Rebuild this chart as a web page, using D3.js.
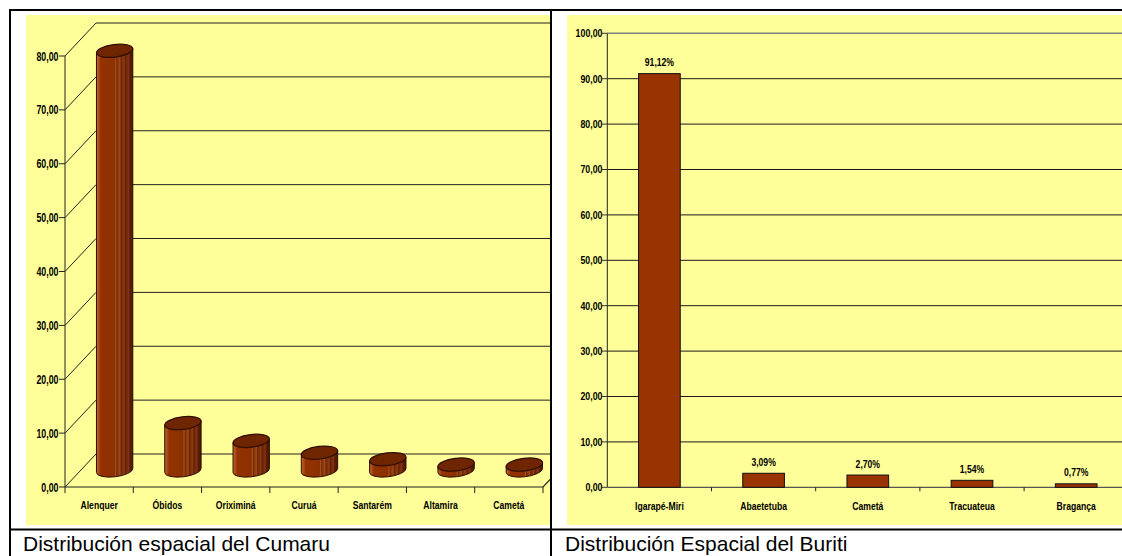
<!DOCTYPE html>
<html><head><meta charset="utf-8">
<script src="https://cdn.jsdelivr.net/npm/d3@7"></script>
<style>
html,body{margin:0;padding:0;background:#fff;}
svg{display:block;}
.lab{font-family:"Liberation Sans",Arial,sans-serif;font-weight:bold;fill:#000;}
.cap{font-family:"Liberation Sans",Arial,sans-serif;font-size:21px;fill:#000;}
</style></head>
<body>
<script>
// ---- data ----
const cumaruCats = ["Alenquer","Óbidos","Oriximiná","Curuá","Santarém","Altamira","Cametá"];
const cumaruVals = [77.9, 8.8, 5.5, 3.3, 2.1, 1.1, 1.1];
const cumaruTicks = [0,10,20,30,40,50,60,70,80];
const buritiCats = ["Igarapé-Miri","Abaetetuba","Cametá","Tracuateua","Bragança"];
const buritiVals = [91.12, 3.09, 2.70, 1.54, 0.77];
const buritiTicks = [0,10,20,30,40,50,60,70,80,90,100];
const captions = ["Distribución espacial del Cumaru","Distribución Espacial del Buriti"];

const fmt = v => d3.format(".2f")(v).replace(".", ",");

const W = 1122, H = 556;
const svg = d3.select("body").append("svg").attr("width", W).attr("height", H);
const defs = svg.append("defs");

// narrow bold label helper
function label(g, x, y, txt, size, anchor, sx) {
  return g.append("text").attr("class","lab").attr("text-anchor",anchor)
    .attr("transform",`translate(${x},${y}) scale(${sx},1)`)
    .attr("font-size",size).text(txt);
}

// cylinder gradient
const grad = defs.append("linearGradient").attr("id","cyl").attr("x1","0").attr("x2","1").attr("y1","0").attr("y2","0");
[[0,"#c4672e"],[0.05,"#b0521c"],[0.12,"#933200"],[0.5,"#8c3000"],[0.53,"#a4531f"],[0.56,"#7c2a00"],
 [0.64,"#9a4a1c"],[0.68,"#722600"],[0.76,"#8e3c14"],[0.8,"#662200"],[0.88,"#80341a"],[0.92,"#5c1e00"],[1,"#4a1700"]]
 .forEach(([o,c]) => grad.append("stop").attr("offset",o).attr("stop-color",c));

defs.append("clipPath").attr("id","clipL").append("rect").attr("x",26).attr("y",15).attr("width",524).attr("height",510);
defs.append("clipPath").attr("id","clipR").append("rect").attr("x",567).attr("y",15).attr("width",555).attr("height",510);

// plot areas
svg.append("rect").attr("x",26).attr("y",15).attr("width",524).attr("height",510).attr("fill","#FFFF99");
svg.append("rect").attr("x",567).attr("y",15).attr("width",555).attr("height",510).attr("fill","#FFFF99");

// ===== Left chart (3D cylinders) =====
const L = svg.append("g").attr("clip-path","url(#clipL)");
const yL = d3.scaleLinear().domain([0,80]).range([487,56]);
const xL = d3.scaleBand().domain(cumaruCats).range([65,543]);
const ddx = 31, ddy = -33;
const gridCol = "#222";

// back/side wall gridlines
cumaruTicks.forEach(t => {
  L.append("path")
    .attr("d", `M${65},${yL(t)} L${65+ddx},${yL(t)+ddy} L${560},${yL(t)+ddy}`)
    .attr("fill","none").attr("stroke",gridCol).attr("stroke-width",1);
});
// floor right edge
L.append("path").attr("d",`M65,${yL(0)} L${xL.range()[1]},${yL(0)} L${xL.range()[1]+ddx},${yL(0)+ddy}`)
  .attr("fill","none").attr("stroke",gridCol).attr("stroke-width",1.2);
// y axis
L.append("line").attr("x1",65).attr("x2",65).attr("y1",yL(0)).attr("y2",yL(80)).attr("stroke",gridCol);
cumaruTicks.forEach(t => {
  L.append("line").attr("x1",59).attr("x2",65).attr("y1",yL(t)).attr("y2",yL(t)).attr("stroke",gridCol);
  label(L, 58.5, yL(t)+4.6, fmt(t), 13, "end", 0.68);
});
// x ticks
xL.domain().forEach((c,i) => {
  const x = xL(c);
  L.append("line").attr("x1",x).attr("x2",x).attr("y1",yL(0)).attr("y2",yL(0)+6).attr("stroke",gridCol);
  label(L, x+xL.bandwidth()/2, 509, c, 10.5, "middle", 0.82);
});
L.append("line").attr("x1",xL.range()[1]).attr("x2",xL.range()[1]).attr("y1",yL(0)).attr("y2",yL(0)+6).attr("stroke",gridCol);

// cylinders
const rx = xL.bandwidth()*0.268, ry = 6.3, th = -7*Math.PI/180;
const t0 = Math.atan2(-ry*Math.sin(th), rx*Math.cos(th));
const ex = t => [rx*Math.cos(t)*Math.cos(th) - ry*Math.sin(t)*Math.sin(th),
                 rx*Math.cos(t)*Math.sin(th) + ry*Math.sin(t)*Math.cos(th)];
let pA = ex(t0), pB = ex(t0+Math.PI);
const left = pA[0] < pB[0] ? pA : pB, right = pA[0] < pB[0] ? pB : pA;
cumaruCats.forEach((c,i) => {
  const cx = xL(c) + xL.bandwidth()/2 + ddx/2;
  const cyB = yL(0) + ddy/2, cyT = yL(cumaruVals[i]) + ddy/2;
  const g = L.append("g");
  g.append("path")
    .attr("d", `M${cx+left[0]},${cyT+left[1]} L${cx+left[0]},${cyB+left[1]} A${rx},${ry} ${-7} 0 0 ${cx+right[0]},${cyB+right[1]} L${cx+right[0]},${cyT+right[1]} Z`)
    .attr("fill","url(#cyl)").attr("stroke","#2e0d00").attr("stroke-width",1);
  g.append("ellipse").attr("cx",0).attr("cy",0).attr("rx",rx).attr("ry",ry)
    .attr("transform",`translate(${cx},${cyT}) rotate(-7)`)
    .attr("fill","#6e2500").attr("stroke","#2e0d00").attr("stroke-width",1.2);
});

// ===== Right chart (flat bars) =====
const R = svg.append("g").attr("clip-path","url(#clipR)");
const yR = d3.scaleLinear().domain([0,100]).range([487.3,33.3]);
const xR = d3.scaleBand().domain(buritiCats).range([607.3,1128.3]);
buritiTicks.forEach(t => {
  if (t > 0) R.append("line").attr("x1",607.3).attr("x2",1122).attr("y1",yR(t)).attr("y2",yR(t))
    .attr("stroke", t===100 ? "#808080" : "#1a1a1a").attr("stroke-width", t===100 ? 1.6 : 1);
  R.append("line").attr("x1",602).attr("x2",607.3).attr("y1",yR(t)).attr("y2",yR(t)).attr("stroke","#333");
  label(R, 602.5, yR(t)+3.9, fmt(t), 11, "end", 0.8);
});
R.append("line").attr("x1",607.3).attr("x2",607.3).attr("y1",yR(0)).attr("y2",yR(100)).attr("stroke","#222");
R.append("line").attr("x1",607.3).attr("x2",1122).attr("y1",yR(0)).attr("y2",yR(0)).attr("stroke","#555").attr("stroke-width",1.3);
const bw = xR.bandwidth()*0.4;
buritiCats.forEach((c,i) => {
  const x0 = xR(c);
  if (i>0) R.append("line").attr("x1",x0).attr("x2",x0).attr("y1",yR(0)).attr("y2",yR(0)+4).attr("stroke","#222");
  const cx = x0 + xR.bandwidth()/2;
  R.append("rect").attr("x",cx-bw/2).attr("y",yR(buritiVals[i])).attr("width",bw)
    .attr("height",yR(0)-yR(buritiVals[i])).attr("fill","#993300").attr("stroke","#111").attr("stroke-width",1);
  label(R, cx, yR(buritiVals[i])-7.5, fmt(buritiVals[i])+"%", 10.5, "middle", 0.82);
  label(R, cx, 510, c, 10.5, "middle", 0.82);
});

// ===== table frame =====
const fr = svg.append("g").attr("stroke","#000").attr("stroke-width",2);
fr.append("line").attr("x1",9).attr("x2",W).attr("y1",10).attr("y2",10);
fr.append("line").attr("x1",9).attr("x2",W).attr("y1",529.5).attr("y2",529.5);
fr.append("line").attr("x1",10).attr("x2",10).attr("y1",9).attr("y2",H);
fr.append("line").attr("x1",551).attr("x2",551).attr("y1",9).attr("y2",H);

// captions
svg.append("text").attr("class","cap").attr("x",23).attr("y",551).text(captions[0]);
svg.append("text").attr("class","cap").attr("x",565).attr("y",551).text(captions[1]);
</script>
</body></html>
